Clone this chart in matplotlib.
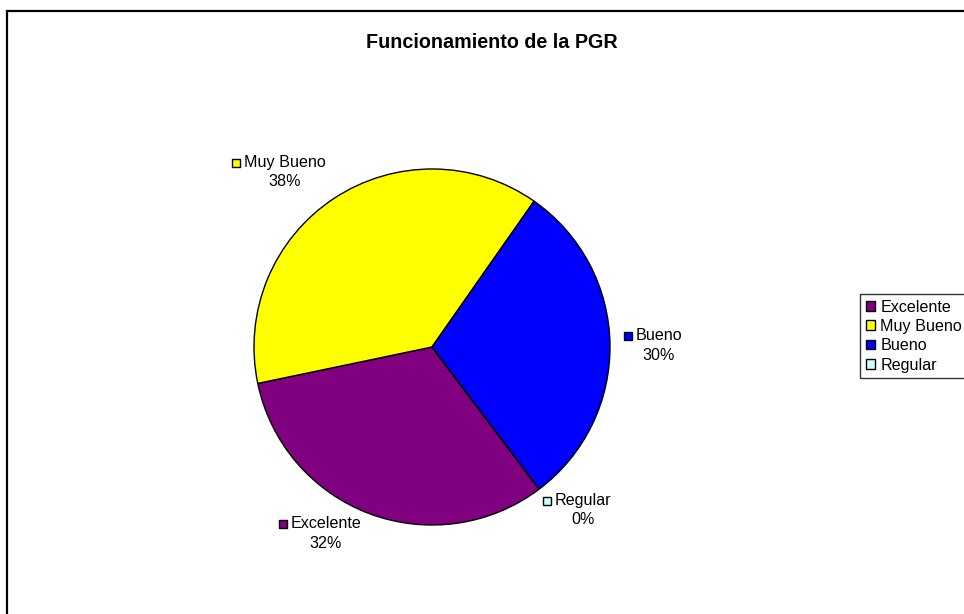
import matplotlib.pyplot as plt
from matplotlib.patches import Rectangle, Patch

plt.rcParams['font.family'] = ['Liberation Sans', 'DejaVu Sans']

W, H = 964, 614

categories = ['Excelente', 'Muy Bueno', 'Bueno', 'Regular']
values = [32, 38, 30, 0]
colors = ['#800080', '#FFFF00', '#0000FF', '#CCFFFF']
title = 'Funcionamiento de la PGR'

# label anchor points (pixel coords of first text line centre, text only)
label_pos = {
    'Excelente': (326, 524),
    'Muy Bueno': (285, 163),
    'Bueno': (659, 336),
    'Regular': (583, 501),
}
line_gap = 19
fs = 11.6


def px(x, y):
    return x / W, 1 - y / H


fig = plt.figure(figsize=(W / 100, H / 100), dpi=100)

# chart area border (right/bottom edges run off the image)
fig.patches.append(Rectangle((7 / W, -0.1), 1.2, 1 - 11 / H + 0.1, transform=fig.transFigure,
                             fill=False, lw=1.6, ec='black'))

cx, cy, r = 432, 347, 178
ax = fig.add_axes([(cx - r) / W, (H - cy - r) / H, 2 * r / W, 2 * r / H])
ax.pie(values, colors=colors, startangle=-53, counterclock=False, radius=1,
       wedgeprops=dict(edgecolor='black', linewidth=1))
ax.set_aspect('auto')
ax.set_xlim(-1, 1)
ax.set_ylim(-1, 1)
ax.axis('off')

fig.text(*px(492, 42), title, ha='center', va='center', fontsize=14.2, fontweight='bold')

total = sum(values)
renderer = fig.canvas.get_renderer()
for cat, val, col in zip(categories, values, colors):
    x, y = label_pos[cat]
    t = fig.text(*px(x, y), cat, ha='center', va='center', fontsize=fs)
    fig.text(*px(x, y + line_gap), '{:.0f}%'.format(100 * val / total), ha='center', va='center', fontsize=fs)
    bb = t.get_window_extent(renderer)
    s = 8
    fig.patches.append(Rectangle(((bb.x0 - 4 - s) / W, 1 - (y + s / 2) / H), s / W, s / H,
                                 transform=fig.transFigure, fc=col, ec='black', lw=1))

handles = [Patch(facecolor=c, edgecolor='black', linewidth=1) for c in colors]
leg = fig.legend(handles, categories, loc='upper left', bbox_to_anchor=px(860, 294),
                 fontsize=fs, frameon=True, fancybox=False, edgecolor='black',
                 handlelength=0.55, handleheight=0.55, handletextpad=0.35,
                 labelspacing=0.27, borderpad=0.35, borderaxespad=0)
leg.get_frame().set_linewidth(1)

fig.savefig('out.png', dpi=100)
